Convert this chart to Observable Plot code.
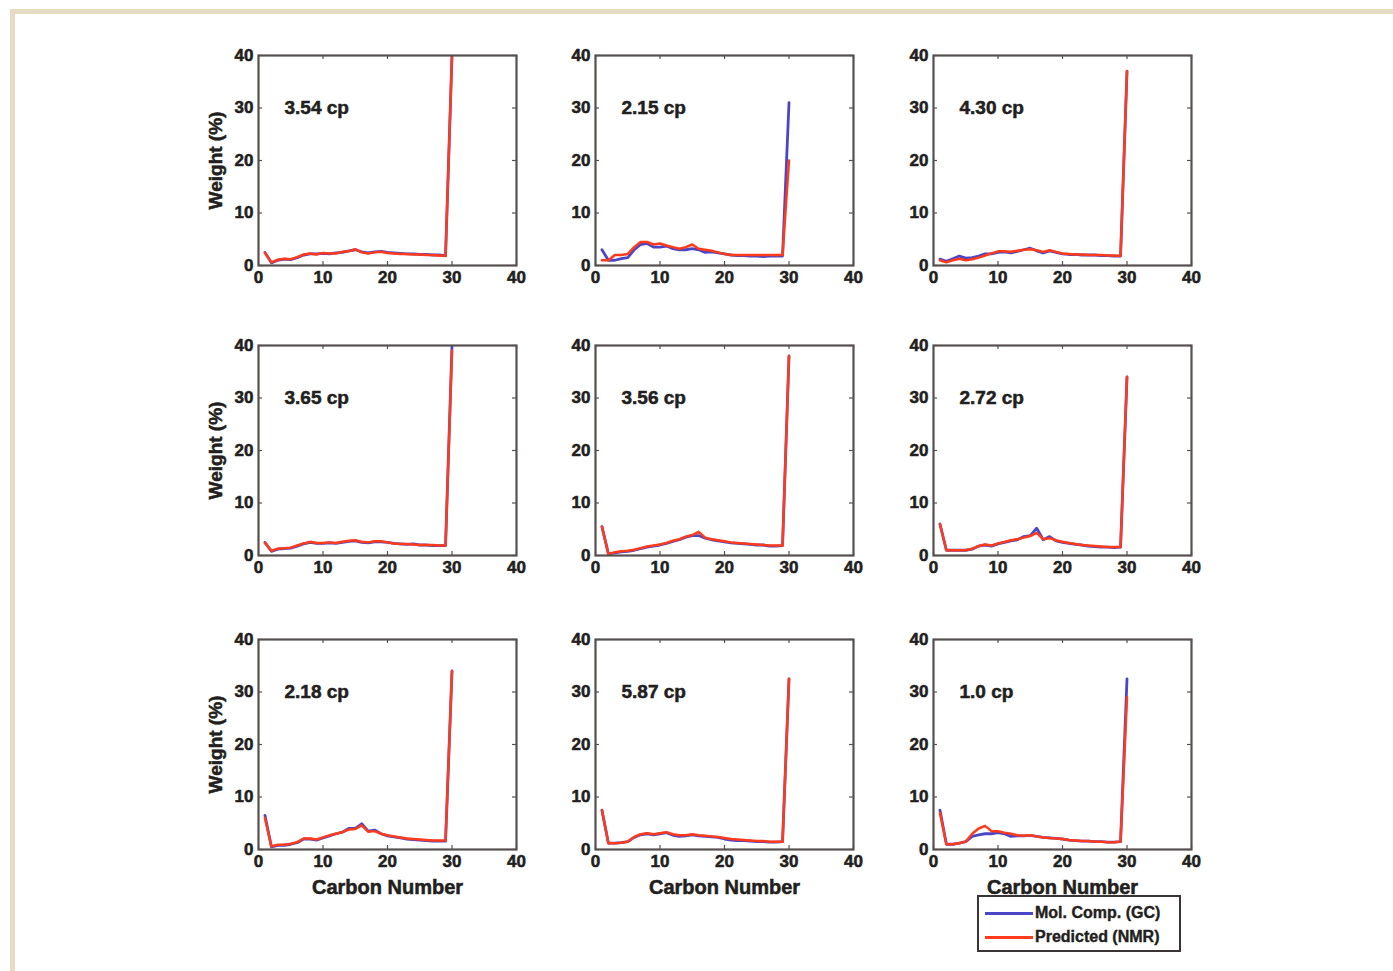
<!DOCTYPE html>
<html>
<head>
<meta charset="utf-8">
<script src="https://cdn.jsdelivr.net/npm/d3@7"></script>
<script src="https://cdn.jsdelivr.net/npm/@observablehq/plot@0.6"></script>
<style>
  body { margin: 0; background: #fff; }
  #page { position: relative; width: 1393px; height: 971px; overflow: hidden; background: #fff;
          font-family: "Liberation Sans", Arial, sans-serif; }
  #frameTop { position: absolute; left: 10px; top: 9px; width: 1383px; height: 5px; background: #e6dcc2; }
  #frameLeft { position: absolute; left: 10px; top: 9px; width: 5px; height: 962px; background: #e6dcc2; }
  .panel { position: absolute; }
  .panel text { stroke: #231f20; stroke-width: 0.55px; }
  #legend { position: absolute; left: 977px; top: 895px; width: 200px; height: 53px;
            border: 2px solid #3a3434; background: #fff; font-weight: bold; font-size: 16px; color: #231f20;
            -webkit-text-stroke: 0.4px #231f20; }
  .row { position: absolute; left: 6px; height: 20px; display: flex; align-items: center; white-space: nowrap; }
  .swatch { display: inline-block; width: 48px; height: 3px; margin-right: 2px; }
</style>
</head>
<body>
<div id="page">
  <div id="frameTop"></div>
  <div id="frameLeft"></div>
</div>
<script>
// ---------- data ----------
const carbon = [1,2,3,4,5,6,7,8,9,10,11,12,13,14,15,16,17,18,19,20,21,22,23,24,25,26,27,28,29,30];
const xTicks = [0, 10, 20, 30, 40];
const yTicks = [0, 10, 20, 30, 40];
const panelLabels = ["3.54 cp", "2.15 cp", "4.30 cp", "3.65 cp", "3.56 cp", "2.72 cp", "2.18 cp", "5.87 cp", "1.0 cp"];
const seriesNames = ["Mol. Comp. (GC)", "Predicted (NMR)"];

const gc1  = [2.5,0.5,1.0,1.2,1.1,1.5,2.0,2.2,2.2,2.3,2.2,2.4,2.5,2.8,3.0,2.6,2.4,2.6,2.7,2.5,2.4,2.3,2.2,2.2,2.1,2.1,2.0,2.0,1.9,40];
const nmr1 = [2.4,0.6,1.1,1.3,1.2,1.6,2.1,2.3,2.1,2.4,2.3,2.3,2.6,2.7,3.1,2.5,2.3,2.5,2.6,2.4,2.3,2.2,2.2,2.1,2.1,2.0,2.0,1.9,1.8,40];
const gc2  = [3.0,1.0,1.0,1.3,1.5,3.0,4.0,4.2,3.5,3.5,3.7,3.2,3.0,3.0,3.2,3.0,2.5,2.6,2.4,2.2,2.0,1.9,1.9,1.8,1.8,1.7,1.8,1.8,1.8,31];
const nmr2 = [1.0,1.0,2.0,2.0,2.2,3.5,4.5,4.5,4.0,4.2,3.8,3.5,3.2,3.5,4.0,3.2,3.0,2.8,2.5,2.2,2.0,2.0,2.0,2.0,2.0,2.0,2.0,2.0,2.0,20];
const gc3  = [1.2,0.8,1.3,1.8,1.4,1.5,1.8,2.2,2.2,2.5,2.6,2.4,2.7,3.0,3.3,2.8,2.4,2.8,2.5,2.2,2.1,2.1,2.0,2.0,2.0,1.9,1.9,1.8,1.8,37];
const nmr3 = [1.0,0.6,1.0,1.3,1.0,1.2,1.5,1.9,2.3,2.7,2.7,2.6,2.8,3.0,3.1,2.9,2.6,2.9,2.6,2.3,2.2,2.1,2.1,2.0,2.0,2.0,1.9,1.9,1.8,37];
const gc4  = [2.5,0.8,1.2,1.3,1.4,1.8,2.2,2.5,2.3,2.3,2.4,2.3,2.5,2.7,2.8,2.5,2.4,2.6,2.6,2.5,2.3,2.2,2.1,2.2,2.0,2.0,1.9,1.9,1.9,40];
const nmr4 = [2.4,0.9,1.3,1.4,1.5,1.9,2.3,2.6,2.4,2.4,2.5,2.4,2.6,2.8,2.9,2.6,2.5,2.7,2.7,2.5,2.3,2.2,2.2,2.1,2.0,2.0,2.0,1.9,1.9,39];
const gc5  = [5.5,0.3,0.5,0.7,0.8,1.0,1.3,1.6,1.8,2.0,2.3,2.7,3.0,3.5,3.8,3.8,3.3,3.0,2.8,2.6,2.4,2.3,2.2,2.1,2.0,2.0,1.8,1.8,1.9,38];
const nmr5 = [5.5,0.3,0.6,0.8,0.9,1.1,1.4,1.7,1.9,2.1,2.4,2.8,3.1,3.6,3.9,4.5,3.4,3.1,2.9,2.7,2.5,2.4,2.3,2.2,2.1,2.0,1.9,1.9,1.9,38];
const gc6  = [6.0,1.0,1.0,1.0,1.0,1.2,1.8,2.0,1.8,2.2,2.5,2.8,3.0,3.6,3.8,5.2,3.0,3.6,2.8,2.5,2.3,2.1,2.0,1.8,1.7,1.6,1.6,1.5,1.6,34];
const nmr6 = [6.0,1.0,1.0,1.0,1.0,1.3,1.8,2.1,1.9,2.3,2.6,2.9,3.1,3.4,3.7,4.3,3.1,3.3,2.9,2.6,2.4,2.2,2.0,1.9,1.8,1.7,1.6,1.6,1.6,34];
const gc7  = [6.5,0.5,0.8,0.8,1.0,1.3,2.0,2.0,1.8,2.2,2.6,3.0,3.3,4.0,4.0,4.9,3.5,3.7,3.0,2.6,2.4,2.2,2.0,1.9,1.8,1.7,1.6,1.6,1.6,34];
const nmr7 = [6.0,0.6,0.9,0.9,1.1,1.4,2.1,2.1,1.9,2.3,2.7,3.0,3.3,3.8,3.9,4.6,3.4,3.5,3.0,2.7,2.5,2.3,2.1,2.0,1.9,1.8,1.7,1.7,1.7,34];
const gc8  = [7.5,1.2,1.2,1.3,1.5,2.3,2.8,3.0,2.8,3.0,3.2,2.7,2.5,2.6,2.8,2.6,2.5,2.4,2.3,2.0,1.8,1.7,1.7,1.6,1.5,1.5,1.4,1.4,1.5,32.5];
const nmr8 = [7.5,1.2,1.2,1.3,1.5,2.4,2.9,3.1,2.9,3.1,3.3,2.9,2.7,2.7,2.9,2.7,2.6,2.5,2.4,2.2,2.0,1.9,1.8,1.7,1.6,1.6,1.5,1.5,1.5,32.5];
const gc9  = [7.5,1.0,1.0,1.2,1.5,2.5,2.8,3.0,3.0,3.2,3.0,2.5,2.6,2.6,2.7,2.5,2.3,2.2,2.1,2.0,1.8,1.7,1.6,1.6,1.5,1.5,1.4,1.4,1.5,32.5];
const nmr9 = [7.0,1.0,1.0,1.2,1.5,3.0,4.0,4.5,3.5,3.5,3.2,3.0,2.7,2.6,2.7,2.5,2.3,2.2,2.1,2.0,1.8,1.7,1.6,1.6,1.5,1.5,1.4,1.4,1.5,29];

const gcSeries  = [gc1, gc2, gc3, gc4, gc5, gc6, gc7, gc8, gc9];
const nmrSeries = [nmr1, nmr2, nmr3, nmr4, nmr5, nmr6, nmr7, nmr8, nmr9];

// ---------- layout / style ----------
const gcColor = "#4b46c8";
const nmrColor = "#ff3b1c";
const textColor = "#231f20";
const frameColor = "#575050";
const fontFamily = "'Liberation Sans', Arial, Helvetica, sans-serif";
const colLeft = [258, 595, 933];
const rowTop = [55, 345, 639];
const PW = 258, PH = 210;             // plot area
const ML = 62, MT = 12, MR = 17, MB = 70;

const page = document.getElementById("page");

for (let p = 0; p < 9; p++) {
  const col = p % 3, row = Math.floor(p / 3);
  const data = carbon.map((c, i) => ({c, gc: gcSeries[p][i], nmr: nmrSeries[p][i]}));
  const marks = [
    Plot.axisX(xTicks, {tickSize: 0, tickPadding: 5, label: null, fontSize: 17}),
    Plot.axisY(yTicks, {tickSize: 0, tickPadding: 5, label: null, fontSize: 17}),
    // inward ticks on all four sides
    Plot.tickX(xTicks, {x: d => d, insetTop: PH - 4, stroke: frameColor, strokeWidth: 1.2}),
    Plot.tickX(xTicks, {x: d => d, insetBottom: PH - 4, stroke: frameColor, strokeWidth: 1.2}),
    Plot.tickY(yTicks, {y: d => d, insetRight: PW - 4, stroke: frameColor, strokeWidth: 1.2}),
    Plot.tickY(yTicks, {y: d => d, insetLeft: PW - 4, stroke: frameColor, strokeWidth: 1.2}),
    Plot.line(data, {x: "c", y: "gc", stroke: gcColor, strokeWidth: 2.8, clip: true}),
    Plot.line(data, {x: "c", y: "nmr", stroke: nmrColor, strokeWidth: 2.5, clip: true}),
    Plot.text([panelLabels[p]], {text: d => d, frameAnchor: "top-left", dx: 26, dy: 52,
      textAnchor: "start", lineAnchor: "middle", fontSize: 19, fontWeight: "bold", fill: textColor}),
    Plot.frame({stroke: frameColor, strokeWidth: 2.2})
  ];
  if (col === 0) {
    marks.push(Plot.text(["Weight (%)"], {text: d => d, frameAnchor: "left", dx: -43, rotate: -90,
      textAnchor: "middle", lineAnchor: "middle", fontSize: 19, fontWeight: "bold", fill: textColor}));
  }
  if (row === 2) {
    marks.push(Plot.text(["Carbon Number"], {text: d => d, frameAnchor: "bottom", dy: 38,
      textAnchor: "middle", lineAnchor: "middle", fontSize: 20, fontWeight: "bold", fill: textColor}));
  }
  const chart = Plot.plot({
    width: ML + PW + MR,
    height: MT + PH + MB,
    marginLeft: ML, marginTop: MT, marginRight: MR, marginBottom: MB,
    style: {fontFamily, fontWeight: "bold", fontSize: "17px", color: textColor, background: "transparent", overflow: "visible"},
    x: {domain: [0, 40]},
    y: {domain: [0, 40]},
    marks
  });
  chart.classList.add("panel");
  chart.style.left = (colLeft[col] - ML) + "px";
  chart.style.top = (rowTop[row] - MT) + "px";
  page.appendChild(chart);
}

// ---------- legend ----------
const legend = document.createElement("div");
legend.id = "legend";
[gcColor, nmrColor].forEach((color, i) => {
  const r = document.createElement("div");
  r.className = "row";
  r.style.top = (6 + i * 24) + "px";
  const sw = document.createElement("span");
  sw.className = "swatch";
  sw.style.background = color;
  r.appendChild(sw);
  r.appendChild(document.createTextNode(seriesNames[i]));
  legend.appendChild(r);
});
page.appendChild(legend);
</script>
</body>
</html>
